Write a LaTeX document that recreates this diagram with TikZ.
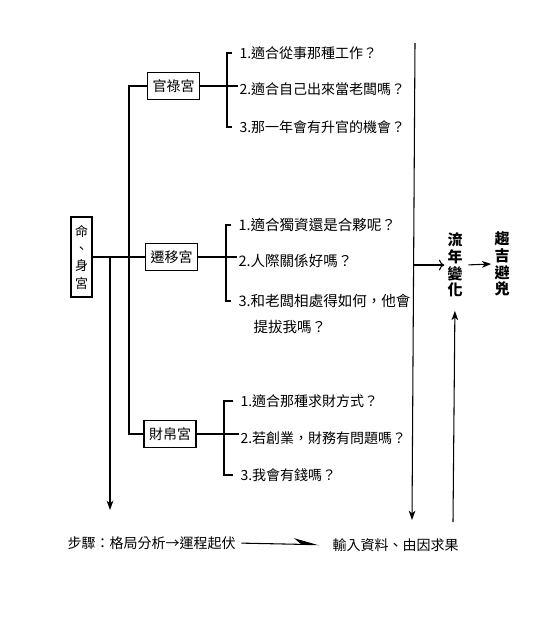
\documentclass[tikz,border=0pt]{standalone}
\usepackage{fontspec}
\setmainfont{Noto Sans CJK TC}
\usetikzlibrary{arrows.meta}
\begin{document}
\begin{tikzpicture}[x=0.75pt,y=-0.75pt,line width=0.8pt,
  gbox/.style={draw,line width=0.8pt,inner sep=0pt,minimum width=39pt,minimum height=20pt,font=\fontsize{10.5pt}{12pt}\selectfont},
  qtext/.style={anchor=west,inner sep=0pt,font=\fontsize{10.5pt}{12pt}\selectfont},
  qbig/.style={anchor=west,inner sep=0pt,font=\fontsize{10.9pt}{13pt}\selectfont},
  vtext/.style={align=center,inner sep=2pt,font=\fontsize{11.25pt}{12.4pt}\selectfont\bfseries},
  arr/.style={-{Stealth[length=7pt,width=5pt,inset=2pt]}}]
\useasboundingbox (0,0) rectangle (538,622);

% main boxes
\node[draw,inner sep=0pt,minimum width=15.75pt,minimum height=60pt,align=center,
      font=\fontsize{9.75pt}{13pt}\selectfont] (ming) at (81.5,257) {命\\、\\身\\宮};
\node[gbox] (guan) at (173.5,86) {官祿宮};
\node[gbox] (qian) at (171.5,257) {遷移宮};
\node[gbox] (cai)  at (170,434) {財帛宮};

% trunk
\coordinate (trunkx) at (129,0);
\draw (ming.east) -- (qian.west);
\draw (guan.west) -| (trunkx |- cai.west) -- (cai.west);

% left down arrow
\coordinate (lbr) at (110,257);
\coordinate (lend) at (110,510);
\draw[arr] (lbr) -- (lend);

% group 1
\node[qtext] (g1) at (239,53)  {1.適合從事那種工作？};
\node[qtext] (g2) at (239,89)  {2.適合自己出來當老闆嗎？};
\node[qtext] (g3) at (239,127) {3.那一年會有升官的機會？};
\draw ([xshift=-5pt]g1.west) -| ([xshift=-9pt]g2.west) |- ([xshift=-5pt]g3.west);
\draw (guan.east) -- ([xshift=-1pt]guan.east -| g2.west);

% group 2
\node[qbig] (q1) at (238,225) {1.適合獨資還是合夥呢？};
\node[qbig] (q2) at (238,261) {2.人際關係好嗎？};
\node[qbig] (q3) at (238,301) {3.和老闆相處得如何，他會};
\node[qbig] (q3b) at (253,327) {提拔我嗎？};
\draw ([xshift=-5pt]q1.west) -| ([xshift=-9pt]q2.west) |- ([xshift=-5pt]q3.west);
\draw (qian.east) -- ([xshift=-1pt]qian.east -| q2.west);

% group 3
\node[qtext] (c1) at (240,401) {1.適合那種求財方式？};
\node[qtext] (c2) at (240,438) {2.若創業，財務有問題嗎？};
\node[qtext] (c3) at (240,475) {3.我會有錢嗎？};
\draw ([xshift=-5pt]c1.west) -| ([xshift=-12pt]c2.west) |- ([xshift=-5pt]c3.west);
\draw (cai.east) -- ([xshift=-1pt]cai.east -| c2.west);

% right side
\coordinate (rtop) at (415,43);
\coordinate (rmid) at (414,265);
\coordinate (rbot) at (412,520);
\draw[arr] (rtop) -- (rbot);

\node[vtext] (liu) at (455,265) {流\\年\\變\\化};
\node[vtext] (qu)  at (502,264) {趨\\吉\\避\\兇};
\draw[-{To[length=4pt,width=8pt]}] (rmid) -- (liu.west);
\draw[arr,shorten <=2pt] (liu.east) -- (qu.west);
\coordinate (ubot) at (453,522);
\draw[arr,shorten >=8pt] (ubot) -- (liu.south);

% bottom
\node[qtext] (steps) at (67,543) {步驟：格局分析→運程起伏};
\node[qtext] (inp) at (332,545) {輸入資料、由因求果};
\draw[-{Stealth[harpoon,length=17pt,width=9pt]},shorten <=4pt,shorten >=10pt] (steps.east) -- (inp.west);
\end{tikzpicture}
\end{document}
